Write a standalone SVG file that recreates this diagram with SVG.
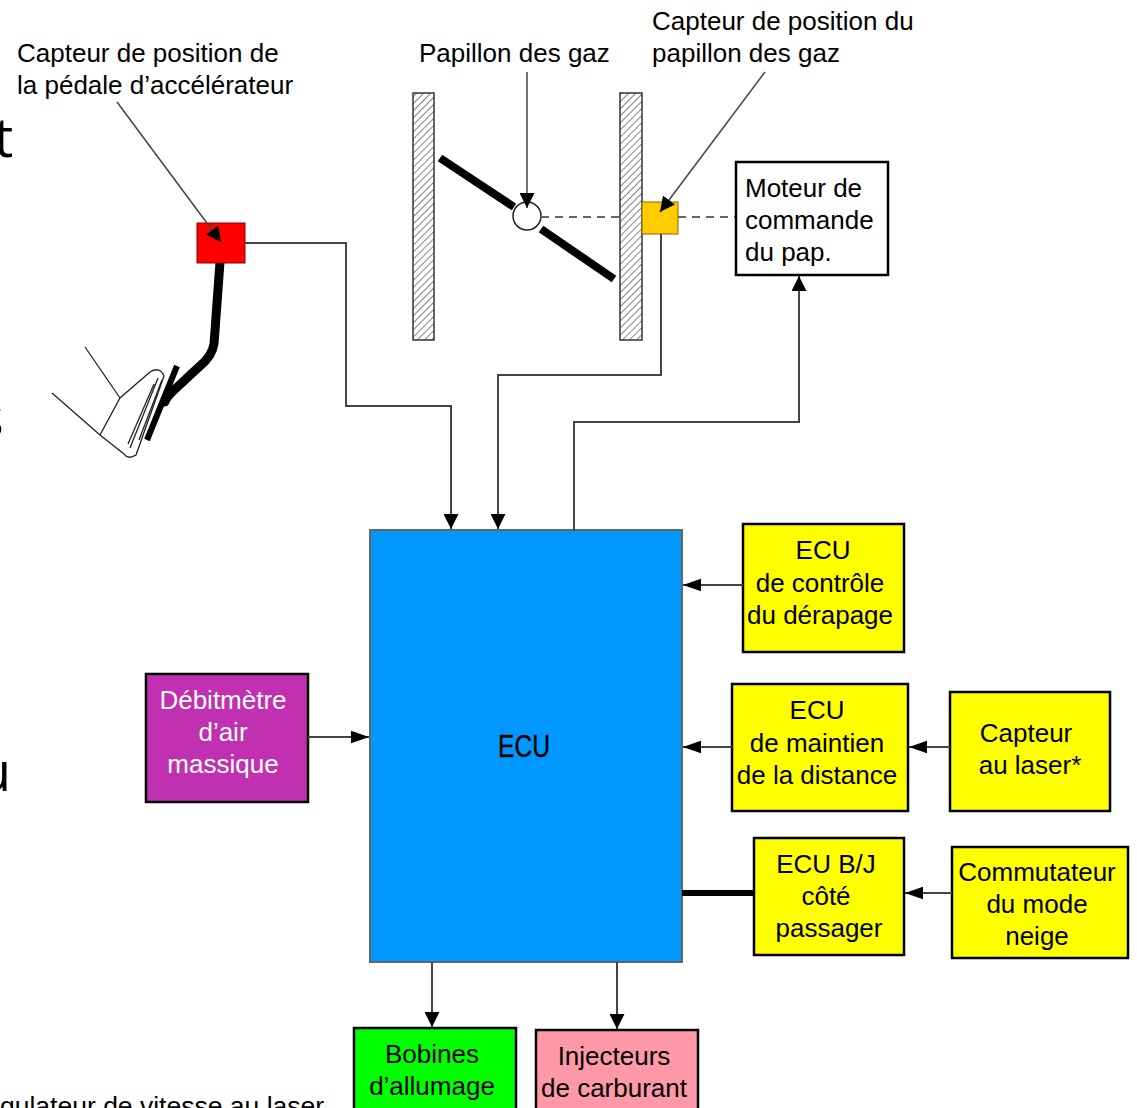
<svg xmlns="http://www.w3.org/2000/svg" width="1137" height="1108" viewBox="0 0 1137 1108">
<style>
text{font-family:"Liberation Sans",Arial,sans-serif;font-size:26px;fill:#000}
.c{text-anchor:middle}
.box{stroke:#000;stroke-width:2.5}
.con{fill:none;stroke:#444;stroke-width:2}
.lbl{fill:none;stroke:#444;stroke-width:1.5}
.big{font-family:"Open Sans","Liberation Sans",sans-serif;font-size:54px}
</style>
<defs>
<marker id="ah" viewBox="0 0 10 10" refX="10" refY="5" markerWidth="15" markerHeight="15" markerUnits="userSpaceOnUse" orient="auto">
<path d="M0,0 L10,5 L0,10 z" fill="#000"/>
</marker>
<marker id="ah2" viewBox="0 0 10 10" refX="10" refY="5" markerWidth="18" markerHeight="18" markerUnits="userSpaceOnUse" orient="auto">
<path d="M0,1.5 L10,5 L0,8.5 z" fill="#000"/>
</marker>
<pattern id="hatch" width="5" height="5" patternUnits="userSpaceOnUse" patternTransform="rotate(45)">
<rect width="5" height="5" fill="#fff"/>
<line x1="0" y1="0" x2="0" y2="5" stroke="#777" stroke-width="1.8"/>
</pattern>
</defs>
<rect width="1137" height="1108" fill="#fff"/>

<!-- background slide fragments -->
<text class="big" x="-6" y="157">t</text>
<text class="big" x="-22" y="437">s</text>
<text class="big" x="-22" y="791">u</text>
<text x="0" y="1115" style="font-size:26.5px">gulateur de vitesse au laser</text>

<!-- labels -->
<g id="labels">
<text x="17" y="62">Capteur de position de</text>
<text x="17" y="94">la pédale d’accélérateur</text>
<text x="419" y="62">Papillon des gaz</text>
<text x="652" y="30">Capteur de position du</text>
<text x="652" y="62">papillon des gaz</text>
</g>

<!-- pedal and foot -->
<g id="pedal">
<path d="M220,262 L214,344 Q212,356 200,366 L172,392 Q166,398 165,402" fill="none" stroke="#000" stroke-width="9" stroke-linecap="round"/>
<line x1="177" y1="366" x2="147" y2="440" stroke="#000" stroke-width="6"/>
<g fill="none" stroke="#222" stroke-width="1.3">
<line x1="85" y1="347" x2="120" y2="398"/>
<line x1="52" y1="393" x2="100" y2="435"/>
<path d="M100,435 L120,398 L150,372 Q160,366 164,376 L136,455 Q128,460 124,454 L100,435"/>
<path d="M158,378 L130,448 M154,384 L128,444 M162,380 L139,440"/>
</g>
<rect id="pedal-sensor" x="197" y="223" width="48" height="40" fill="#ff0000" stroke="#800" stroke-width="1"/>
</g>

<!-- throttle body -->
<g id="throttle">
<rect x="413" y="93" width="21" height="247" fill="url(#hatch)" stroke="#333" stroke-width="1.5"/>
<rect x="620" y="93" width="22" height="247" fill="url(#hatch)" stroke="#333" stroke-width="1.5"/>
<line x1="440" y1="158" x2="514" y2="207" stroke="#000" stroke-width="8"/>
<line x1="541" y1="229" x2="614" y2="279" stroke="#000" stroke-width="8"/>
<circle cx="527" cy="216" r="14" fill="#fff" stroke="#222" stroke-width="1.5"/>
<line x1="541" y1="217" x2="620" y2="217" stroke="#666" stroke-width="2" stroke-dasharray="8,6"/>
<line x1="678" y1="217" x2="736" y2="217" stroke="#666" stroke-width="2" stroke-dasharray="8,6"/>
<rect id="tps" x="642" y="202" width="36" height="32" fill="#ffcc00" stroke="#886600" stroke-width="1"/>
</g>

<g id="n-moteur">
<rect x="736" y="162" width="152" height="113" fill="#fff" class="box" stroke-width="2"/>
<text x="745" y="197">Moteur de</text>
<text x="745" y="229">commande</text>
<text x="745" y="261">du pap.</text>
</g>

<g id="n-ecu">
<rect x="370" y="530" width="312" height="432" fill="#0098ff" stroke="#666" stroke-width="2"/>
<text class="c" x="524" y="757" style="font-size:31px;stroke:#000;stroke-width:0.4" textLength="52" lengthAdjust="spacingAndGlyphs">ECU</text>
</g>

<g id="n-derapage">
<rect class="box" x="743" y="524" width="161" height="128" fill="#ffff00"/>
<text class="c" x="823" y="559">ECU</text>
<text class="c" x="820" y="592">de contrôle</text>
<text class="c" x="820" y="624">du dérapage</text>
</g>

<g id="n-distance">
<rect class="box" x="732" y="684" width="176" height="127" fill="#ffff00"/>
<text class="c" x="817" y="719">ECU</text>
<text class="c" x="817" y="752">de maintien</text>
<text class="c" x="817" y="784">de la distance</text>
</g>

<g id="n-laser">
<rect class="box" x="950" y="692" width="160" height="119" fill="#ffff00"/>
<text class="c" x="1026" y="742">Capteur</text>
<text class="c" x="1030" y="774">au laser*</text>
</g>

<g id="n-bj">
<rect class="box" x="754" y="838" width="150" height="117" fill="#ffff00"/>
<text class="c" x="826" y="873">ECU B/J</text>
<text class="c" x="826" y="905">côté</text>
<text class="c" x="829" y="937">passager</text>
</g>

<g id="n-neige">
<rect class="box" x="952" y="847" width="176" height="111" fill="#ffff00"/>
<text class="c" x="1037" y="881">Commutateur</text>
<text class="c" x="1037" y="913">du mode</text>
<text class="c" x="1037" y="945">neige</text>
</g>

<g id="n-debit">
<rect class="box" x="146" y="674" width="162" height="128" fill="#c030b0"/>
<text class="c" x="223" y="709" style="fill:#fff">Débitmètre</text>
<text class="c" x="223" y="741" style="fill:#fff">d’air</text>
<text class="c" x="223" y="773" style="fill:#fff">massique</text>
</g>

<g id="n-bobines">
<rect class="box" x="354" y="1028" width="162" height="84" fill="#00ff00"/>
<text class="c" x="432" y="1063">Bobines</text>
<text class="c" x="432" y="1095">d’allumage</text>
</g>

<g id="n-injecteurs">
<rect class="box" x="536" y="1030" width="162" height="82" fill="#ff99aa"/>
<text class="c" x="614" y="1065">Injecteurs</text>
<text class="c" x="614" y="1097">de carburant</text>
</g>

<!-- connectors -->
<g id="connectors">
<line class="lbl" x1="117" y1="102" x2="221" y2="242" marker-end="url(#ah)"/>
<line class="lbl" x1="527" y1="72" x2="527" y2="208" marker-end="url(#ah)"/>
<line class="lbl" x1="765" y1="72" x2="660" y2="212" marker-end="url(#ah)"/>
<path class="con" d="M245,243 H346 V406 H451 V529" marker-end="url(#ah)"/>
<path class="con" d="M661,234 V375 H498 V529" marker-end="url(#ah)"/>
<path class="con" d="M574,530 V422 H799 V276" marker-end="url(#ah)"/>
<line class="con" x1="743" y1="585" x2="683" y2="585" stroke-width="3" marker-end="url(#ah2)"/>
<line class="con" x1="732" y1="747" x2="683" y2="747" stroke-width="3" marker-end="url(#ah2)"/>
<line class="con" x1="950" y1="747" x2="909" y2="747" stroke-width="3" marker-end="url(#ah2)"/>
<line x1="682" y1="893" x2="754" y2="893" stroke="#000" stroke-width="6"/>
<line class="con" x1="952" y1="893" x2="905" y2="893" stroke-width="3" marker-end="url(#ah2)"/>
<line class="con" x1="308" y1="737" x2="369" y2="737" stroke-width="3" marker-end="url(#ah2)"/>
<line class="con" x1="432" y1="962" x2="432" y2="1027" marker-end="url(#ah)"/>
<line class="con" x1="617" y1="962" x2="617" y2="1029" marker-end="url(#ah)"/>
</g>
</svg>
